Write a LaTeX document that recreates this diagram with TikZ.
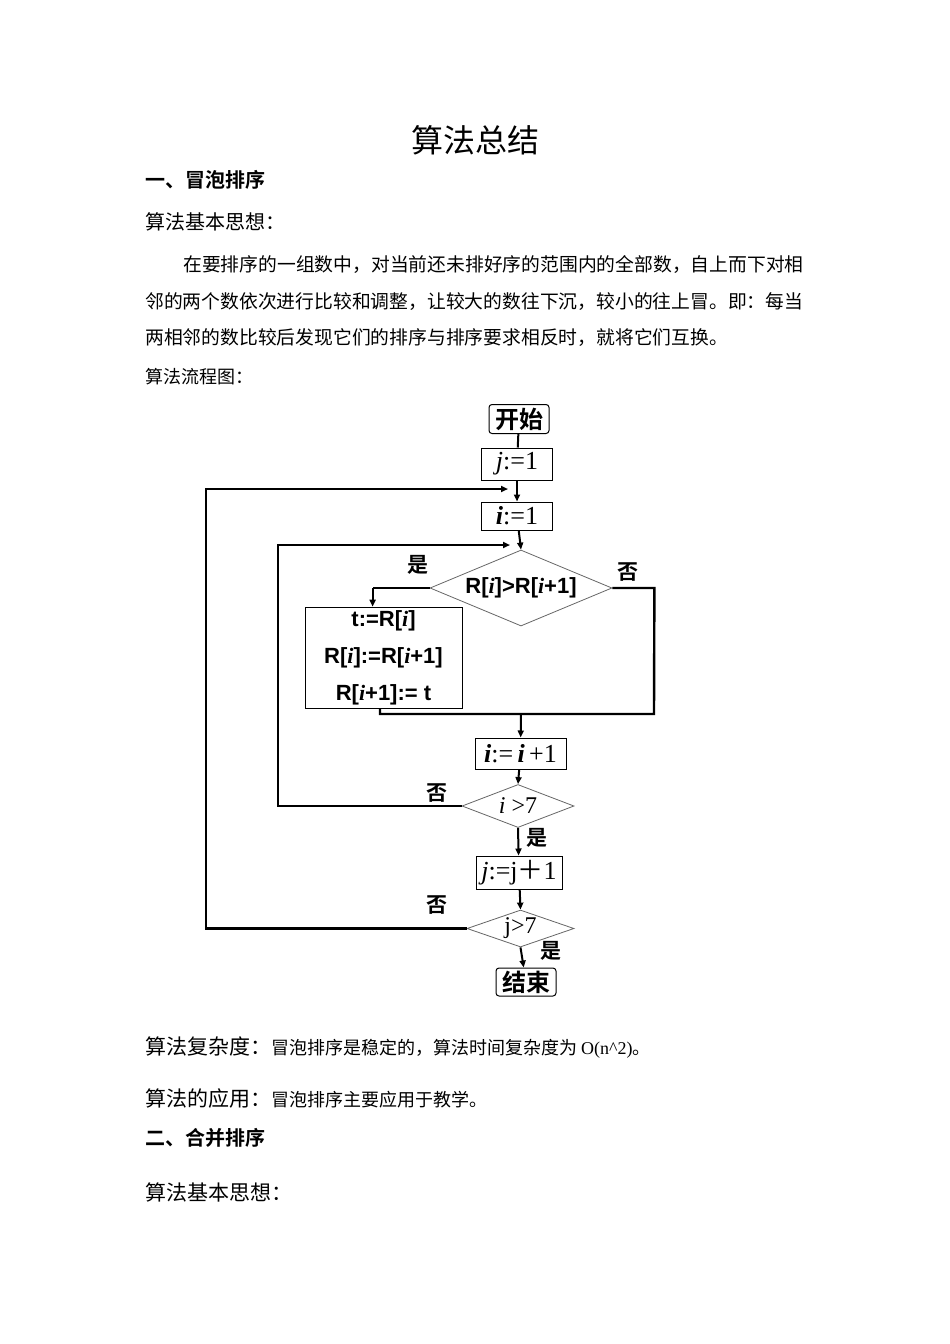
\documentclass[tikz,border=0pt]{standalone}
\usepackage{fontspec}
\setmainfont{Liberation Serif}
\newfontfamily\cjk{Noto Sans CJK SC}
\newfontfamily\cjkb{Noto Sans CJK SC Bold}
\newfontfamily\arl{Liberation Sans}
\usetikzlibrary{shapes.geometric,arrows.meta}
\begin{document}
\begin{tikzpicture}[x=1pt,y=-1pt,
  txt/.style={inner sep=0pt,anchor=west},
  bx/.style={draw,line width=1pt,inner sep=0pt},
  dm/.style={draw=black!60,line width=0.8pt,diamond,aspect=2.4,inner sep=0pt},
  fl/.style={line width=2.4pt},
  ar/.style={line width=2pt,-{Triangle[length=7pt,width=6pt]}},
  lab/.style={inner sep=0pt,font=\cjkb\fontsize{21}{21}\selectfont}]
\useasboundingbox (0,0) rectangle (950,1344);
\fill[white] (0,0) rectangle (950,1344);
% texts
\node[inner sep=0pt] (title) at (475,140) {\cjk\fontsize{32}{32}\selectfont 算法总结};
\node[txt] (h1) at (145,180) {\cjkb\fontsize{20}{20}\selectfont 一、冒泡排序};
\node[txt] (s1) at (145,222) {\cjk\fontsize{20}{20}\selectfont 算法基本思想：};
\node[txt] (p1) at (183,265) {\cjk\fontsize{18.8}{18.8}\selectfont 在要排序的一组数中，对当前还未排好序的范围内的全部数，自上而下对相};
\node[txt] (p2) at (145,302) {\cjk\fontsize{18.8}{18.8}\selectfont 邻的两个数依次进行比较和调整，让较大的数往下沉，较小的往上冒。即：每当};
\node[txt] (p3) at (145,338) {\cjk\fontsize{18.8}{18.8}\selectfont 两相邻的数比较后发现它们的排序与排序要求相反时，就将它们互换。};
\node[txt] (p4) at (145,377) {\cjk\fontsize{18}{18}\selectfont 算法流程图：};
\node[txt] (c1) at (145,1048) {\cjk\fontsize{21}{21}\selectfont 算法复杂度：\fontsize{18}{18}\selectfont 冒泡排序是稳定的，算法时间复杂度为 \rmfamily O(n\^{}2)\cjk 。};
\node[txt] (c2) at (145,1098) {\cjk\fontsize{21}{21}\selectfont 算法的应用：\fontsize{18}{18}\selectfont 冒泡排序主要应用于教学。};
\node[txt] (h2) at (145,1138) {\cjkb\fontsize{20}{20}\selectfont 二、合并排序};
\node[txt] (s2) at (145,1192) {\cjk\fontsize{21}{21}\selectfont 算法基本思想：};
% flowchart
\node[bx,rounded corners=3pt,minimum width=60pt,minimum height=29pt] (start) at (519,419) {\cjkb\fontsize{24}{24}\selectfont 开始};
\node[bx,minimum width=71pt,minimum height=32pt] (j1) at (517,464) {\fontsize{26}{26}\selectfont \textit{j}:=1};
\node[bx,minimum width=71pt,minimum height=28pt] (i1) at (517,516) {\fontsize{26}{26}\selectfont \textbf{\textit{i}}:=1};
\node[dm,minimum width=182pt,minimum height=76pt] (d1) at (521,588) {\arl\bfseries\fontsize{22}{22}\selectfont R[\textit{\rmfamily i}]>R[\textit{\rmfamily i}+1]};
\node[bx,line width=0.6pt,minimum width=157pt,minimum height=101pt,align=center,font=\arl\bfseries\fontsize{22}{37}\selectfont] (sw) at (383.5,657.5) {t:=R[\textit{\rmfamily i}]\\R[\textit{\rmfamily i}]:=R[\textit{\rmfamily i}+1]\\R[\textit{\rmfamily i}+1]:= t};
\node[bx,minimum width=91pt,minimum height=31pt] (inc) at (520.5,753.5) {\fontsize{26}{26}\selectfont \textbf{\textit{i}}:=\,\textbf{\textit{i}}\,+1};
\node[dm,minimum width=112pt,minimum height=43pt,aspect=2.6] (d2) at (518,806) {\fontsize{24}{24}\selectfont \textit{i} >7};
\node[bx,minimum width=86pt,minimum height=33pt] (jinc) at (519,872.5) {\fontsize{26}{26}\selectfont \textit{j}:=j{\cjk ＋}1};
\node[dm,minimum width=107pt,minimum height=37pt,aspect=2.9] (d3) at (520.5,928.5) {\fontsize{24}{24}\selectfont j>7};
\node[bx,rounded corners=3pt,minimum width=60pt,minimum height=28pt] (end) at (526,982) {\cjkb\fontsize{24}{24}\selectfont 结束};
\coordinate (m3) at (521,714);
% connectors
\draw[line width=2pt] (start) -- (j1);
\draw[ar] (j1) -- (i1);
\draw[ar] (i1) -- (d1.north);
\draw[fl] (d1.west) -- ++(-57,0) coordinate (y1);
\draw[ar] (y1) -- (sw.north -| y1);
\draw[fl] (d1.east) -- ++(42,0) -- (654,714) -- (380,714) -- (380,708);
\draw[ar] (m3) -- (inc);
\draw[ar] (inc) -- (d2.north);
\draw[ar] (d2.south) -- (jinc);
\draw[ar] (jinc) -- (d3.north);
\draw[ar] (d3.south) -- (end);
\draw[fl,-{Triangle[length=7pt,width=6pt]}] (d2.west) -- (278,806) -- (278,545) -- (510,545);
\draw[fl,-{Triangle[length=7pt,width=6pt]}] (d3.west) -- (206,928.5) -- (206,489) -- (508,489);
% labels
\node[lab] (l1) at (418,565) {是};
\node[lab] (l2) at (628,572) {否};
\node[lab] (l3) at (437,793) {否};
\node[lab] (l4) at (537,838) {是};
\node[lab] (l5) at (437,905) {否};
\node[lab] (l6) at (551,951) {是};
\end{tikzpicture}
\end{document}
